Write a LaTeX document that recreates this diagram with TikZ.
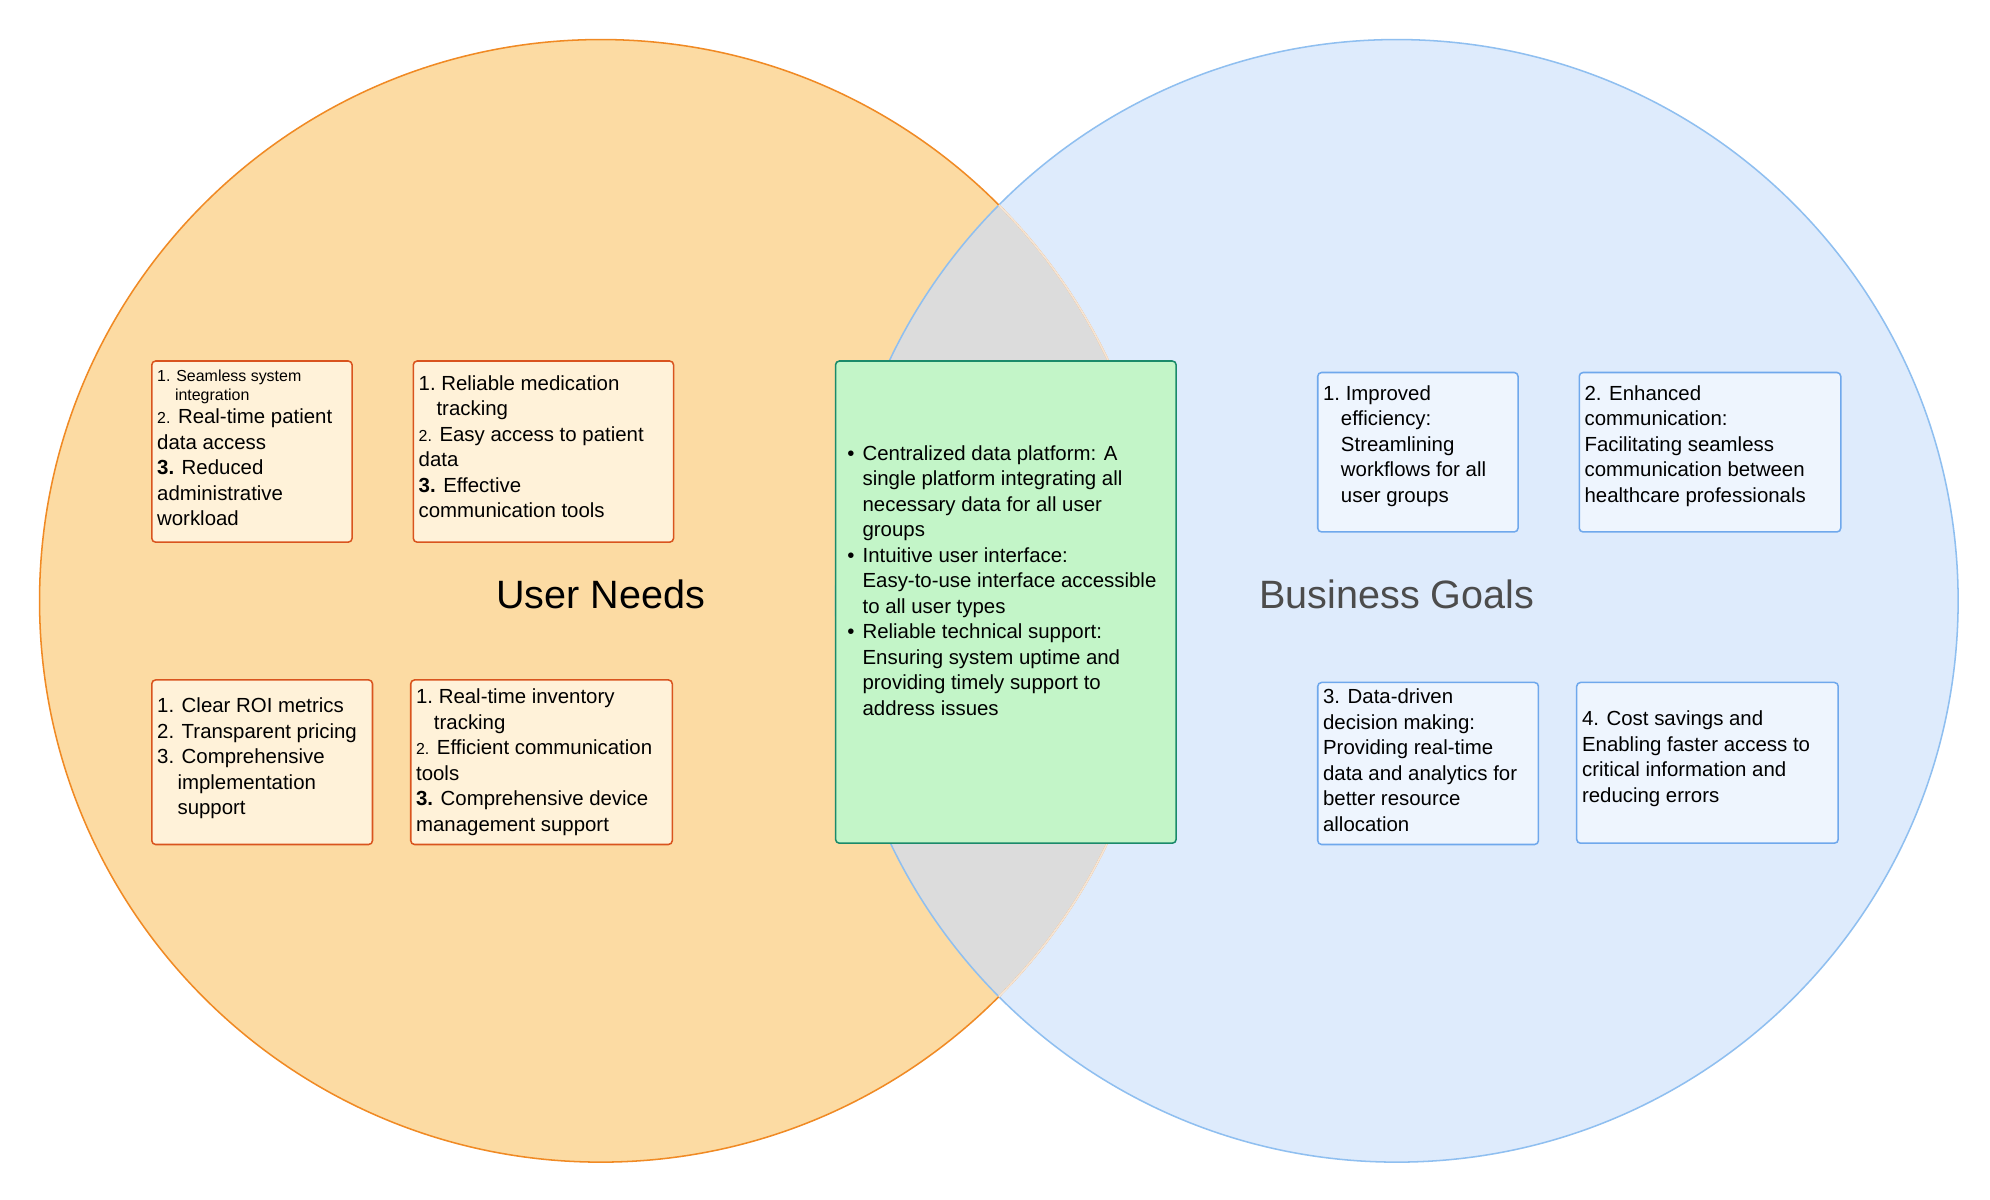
\documentclass[tikz,border=0pt]{standalone}
\usepackage{fontspec}
\setmainfont{Liberation Sans}
\definecolor{lfill}{HTML}{FCDBA3}
\definecolor{lline}{HTML}{F08A24}
\definecolor{rfill}{HTML}{DEEBFC}
\definecolor{rline}{HTML}{8FBFF0}
\definecolor{ovl}{HTML}{DCDCDC}
\definecolor{unfill}{HTML}{FFF2D9}
\definecolor{unline}{HTML}{D9541E}
\definecolor{bgfill}{HTML}{EEF5FE}
\definecolor{bgline}{HTML}{6FA8EC}
\definecolor{cfill}{HTML}{C3F5C8}
\definecolor{cline}{HTML}{1A8A6A}
\tikzset{
 unbox/.style={draw=unline,fill=unfill,rounded corners=3pt,line width=1.2pt},
 bgbox/.style={draw=bgline,fill=bgfill,rounded corners=3pt,line width=1.2pt},
 txt/.style={anchor=north west,inner sep=0pt,align=left,font=\fontsize{16}{20}\selectfont},
}
\newcommand{\sm}[1]{{\fontsize{12.5}{14}\selectfont #1}}
\newcommand{\bl}{\makebox[12pt][l]{\textbullet}}
\newcommand{\ind}{\hspace*{12pt}}
\begin{document}
\begin{tikzpicture}[x=1pt,y=-1pt]
\useasboundingbox (0,0) rectangle (1560,940);
\fill[white] (0,0) rectangle (1560,940);
\fill[lfill] (471,471) circle (440);
\fill[rfill] (1095,471) circle (440);
\begin{scope}
\clip (471,471) circle (440);
\fill[ovl] (1095,471) circle (440);
\end{scope}
\draw[rline,line width=1.2pt] (1095,471) circle (440);
\draw[lline,line width=1.2pt] (471,471) circle (440);
\begin{scope}
\clip (1095,471) circle (440);
\draw[ovl!60!lline!40!white,line width=1.4pt] (471,471) circle (440);
\end{scope}

\node[font=\fontsize{31}{34}\selectfont] (un) at (471,466) {User Needs};
\node[font=\fontsize{31}{34}\selectfont,text=black!70] (bg) at (1095,466) {Business Goals};

\draw[unbox] (119,283) rectangle (276,425);
\node[txt] (t1) at (123,290) {\sm{1. Seamless system}\\[-5pt]\sm{\hspace*{14pt}integration}\\[-2pt]\sm{2.} Real-time patient\\data access\\\textbf{3.} Reduced\\administrative\\workload};
\draw[unbox] (324,283) rectangle (528,425);
\node[txt] (t2) at (328,294) {1.\ Reliable medication\\\hspace*{14pt}tracking\\\sm{2.} Easy access to patient\\data\\\textbf{3.} Effective\\communication tools};
\draw[unbox] (119,533) rectangle (292,662);
\node[txt] (t3) at (123,547) {1. Clear ROI metrics\\2. Transparent pricing\\3. Comprehensive\\\hspace*{16pt}implementation\\\hspace*{16pt}support};
\draw[unbox] (322,533) rectangle (527,662);
\node[txt] (t4) at (326,540) {1.\ Real-time inventory\\\hspace*{14pt}tracking\\\sm{2.} Efficient communication\\tools\\\textbf{3.} Comprehensive device\\management support};

\draw[draw=cline,fill=cfill,rounded corners=3pt,line width=1.2pt] (655,283) rectangle (922,661);
\node[txt] (c) at (664,349) {\bl Centralized data platform: A\\\ind single platform integrating all\\\ind necessary data for all user\\\ind groups\\\bl Intuitive user interface:\\\ind Easy-to-use interface accessible\\\ind to all user types\\\bl Reliable technical support:\\\ind Ensuring system uptime and\\\ind providing timely support to\\\ind address issues};

\draw[bgbox] (1033,292) rectangle (1190,417);
\node[txt] (b1) at (1037,302) {1.\ Improved\\\hspace*{14pt}efficiency:\\\hspace*{14pt}Streamlining\\\hspace*{14pt}workflows for all\\\hspace*{14pt}user groups};
\draw[bgbox] (1238,292) rectangle (1443,417);
\node[txt] (b2) at (1242,302) {2. Enhanced\\communication:\\Facilitating seamless\\communication between\\healthcare professionals};
\draw[bgbox] (1033,535) rectangle (1206,662);
\node[txt] (b3) at (1037,540) {3. Data-driven\\decision making:\\Providing real-time\\data and analytics for\\better resource\\allocation};
\draw[bgbox] (1236,535) rectangle (1441,661);
\node[txt] (b4) at (1240,557) {4. Cost savings and\\Enabling faster access to\\critical information and\\reducing errors};
\end{tikzpicture}
\end{document}
